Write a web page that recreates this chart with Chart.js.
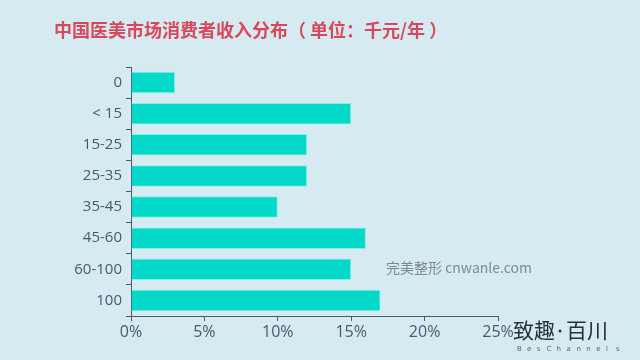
<!DOCTYPE html>
<html>
<head>
<meta charset="utf-8">
<script src="https://cdn.jsdelivr.net/npm/chart.js@4"></script>
<style>
  html, body { margin: 0; padding: 0; background: #d5ebf1; overflow: hidden; }
</style>
</head>
<body>
<canvas id="bar-chart" width="640" height="360"></canvas>
<script>
// income brackets (thousand yuan / year) and share of consumers (%)
const brackets = ["0", "< 15", "15-25", "25-35", "35-45", "45-60", "60-100", "100"];
const shares = [3, 15, 12, 12, 10, 16, 15, 17];
const xTicks = [0, 5, 10, 15, 20, 25];

const textColor = "#485a6c";

// title, watermark and logo text
const extras = {
  id: "extras",
  afterDraw(chart) {
    const c = chart.ctx;
    c.save();
    c.textBaseline = "middle";
    c.textAlign = "left";
    c.fillStyle = "#d9475b";
    c.font = "bold 18px 'Noto Sans CJK SC', sans-serif";
    c.fillText("中国医美市场消费者收入分布（ 单位：千元/年 ）", 54, 30);

    c.fillStyle = "#7d8a94";
    c.font = "14px 'Noto Sans CJK SC', 'Open Sans', sans-serif";
    c.fillText("完美整形 cnwanle.com", 386, 268);

    // logo
    c.fillStyle = "#26303b";
    c.font = "21px 'Noto Sans CJK SC', sans-serif";
    c.fillText("致趣", 513, 330);
    c.fillText("百川", 566, 330);
    c.beginPath();
    c.arc(560, 331, 1.5, 0, Math.PI * 2);
    c.fill();
    c.fillStyle = "#5a6570";
    c.font = "7px 'DejaVu Sans', sans-serif";
    const s = "BesChannels";
    for (let i = 0; i < s.length; i++) c.fillText(s[i], 517 + i * 9.9, 349);
    c.restore();
  }
};

const ctx = document.getElementById("bar-chart").getContext("2d");
const chart = new Chart(ctx, {
  type: "bar",
  data: {
    labels: brackets,
    datasets: [
      {
        label: "收入分布",
        data: shares,
        backgroundColor: "#03d8c9",
        borderColor: "#7ff0e4",
        borderWidth: { top: 1, bottom: 1, left: 0, right: 1 },
        borderSkipped: "left",
        categoryPercentage: 0.69,
        barPercentage: 1,
      },
    ],
  },
  options: {
    indexAxis: "y",
    responsive: false,
    animation: false,
    layout: { padding: { top: 67, right: 142, bottom: 0, left: 0 } },
    plugins: {
      legend: { display: false },
      tooltip: { enabled: false },
    },
    scales: {
      x: {
        min: 0,
        max: 25,
        afterBuildTicks: (s) => { s.ticks = xTicks.map((v) => ({ value: v })); },
        afterFit: (s) => { s.height = 44; },
        grid: { drawOnChartArea: false, tickLength: 5, color: textColor },
        border: { color: textColor, width: 1 },
        ticks: {
          color: textColor,
          padding: 2,
          maxRotation: 0,
          font: { family: "'Open Sans', sans-serif", size: 16 },
          callback: (v) => v + "%",
        },
      },
      y: {
        afterFit: (s) => { s.width = 131; },
        grid: { drawOnChartArea: false, tickLength: 5, color: textColor, offset: true },
        border: { color: textColor, width: 1 },
        ticks: {
          color: textColor,
          padding: 4,
          font: { family: "'Open Sans', sans-serif", size: 15 },
        },
      },
    },
  },
  plugins: [extras],
});
</script>
</body>
</html>
